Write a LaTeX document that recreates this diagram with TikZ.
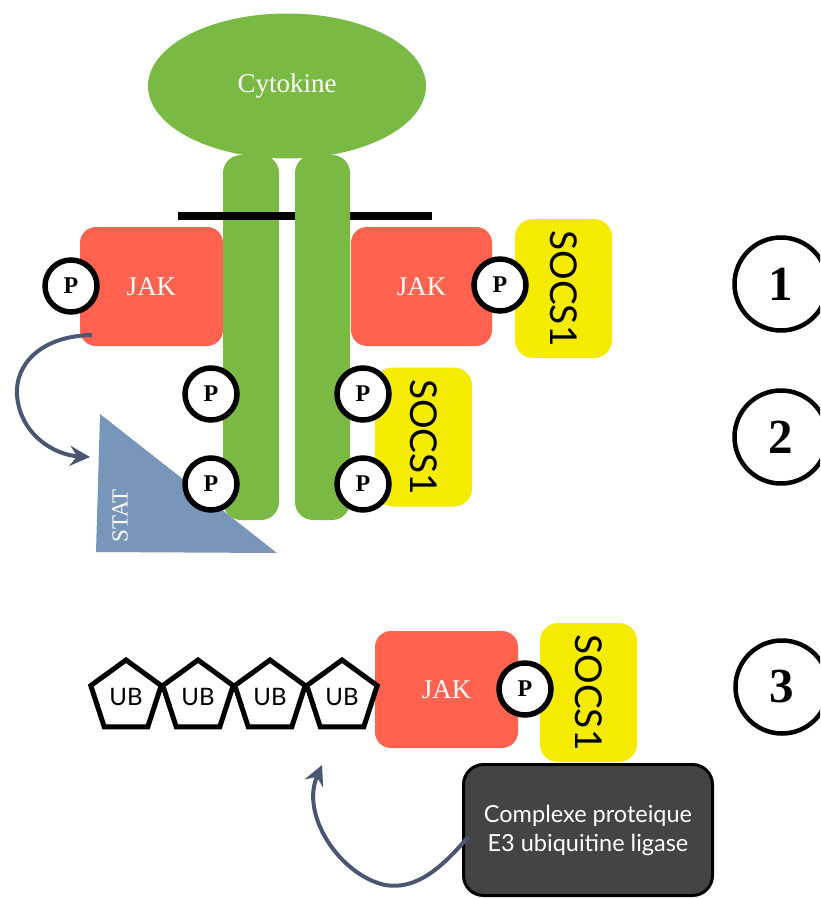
\documentclass[tikz,border=0pt]{standalone}
\usepackage{fontspec}
\setmainfont{Liberation Serif}
\newfontfamily\ubfont{Lato}
\usetikzlibrary{shapes.geometric,arrows.meta}
\definecolor{cgreen}{HTML}{7AB943}
\definecolor{cjak}{HTML}{FF6350}
\definecolor{csocs}{HTML}{F5EB00}
\definecolor{cstat}{HTML}{7896B9}
\definecolor{carrow}{HTML}{4A5672}
\definecolor{cdark}{HTML}{444444}
\begin{document}
\begin{tikzpicture}[x=1pt,y=-1pt,
  jakbox/.style={rectangle, rounded corners=16pt, fill=cjak, minimum width=143pt, minimum height=119pt, text=white, font=\fontsize{27}{30}\selectfont, inner sep=0pt},
  socsbox/.style={rectangle, rotate=-90, rounded corners=18pt, fill=csocs, minimum width=139pt, minimum height=97pt, inner sep=0pt, font=\ubfont\fontsize{37}{37}\selectfont},
  pcirc/.style={circle, draw=black, line width=5.5pt, fill=white, minimum size=52pt, inner sep=0pt, font=\bfseries\fontsize{24}{24}\selectfont},
  numcirc/.style={circle, draw=black, line width=4.5pt, fill=white, minimum size=93pt, inner sep=0pt, font=\bfseries\fontsize{49}{49}\selectfont},
  bar/.style={rectangle, rounded corners=18pt, fill=cgreen, minimum width=56pt, minimum height=365pt, inner sep=0pt},
  ubpent/.style={regular polygon, regular polygon sides=5, draw=black, line width=5pt, fill=white, minimum size=74pt, inner sep=0pt, font=\ubfont\fontsize{24}{24}\selectfont},
  conn/.style={draw=carrow, line width=4pt, -{Stealth[length=20pt,width=20pt,inset=7pt]}}
]
\useasboundingbox (0,0) rectangle (820,899);
\clip (0,0) rectangle (820,899);

% STAT triangle
\fill[cstat] (100,414) -- (96,552) -- (277,553) -- cycle;
\node[rotate=90, text=white, font=\fontsize{23}{23}\selectfont, inner sep=0pt] (stat) at (120,516) {STAT};

% receptor bars and membrane
\node[bar] (barL) at (251,337.5) {};
\node[rectangle, fill=black, minimum width=254pt, minimum height=8pt, inner sep=0pt] (membrane) at (305,216) {};
\node[bar, minimum width=55pt] (barR) at (322.5,337.5) {};

% cytokine
\node[ellipse, fill=cgreen, minimum width=278pt, minimum height=145pt, text=white, font=\fontsize{27}{27}\selectfont, inner sep=0pt] (cyto) at (287,86) {Cytokine};

% JAK boxes
\node[jakbox] (jakL) at (151.5,286.5) {JAK};
\node[jakbox, minimum width=141pt] (jakR) at (421.5,286.5) {JAK};
\node[jakbox, minimum height=117pt] (jakB) at (446.5,689.5) {JAK};

% SOCS1 boxes
\node[socsbox] (socsA) at (563.5,288.5) {SOCS1};
\node[socsbox] (socsB) at (423.5,437) {SOCS1};
\node[socsbox] (socsC) at (588.5,692.5) {SOCS1};

% P circles
\node[pcirc] (pL) at (71,286) {P};
\node[pcirc] (pR) at (500,285) {P};
\node[pcirc] (pB1) at (211,394) {P};
\node[pcirc] (pB2) at (211,484) {P};
\node[pcirc] (pR1) at (363,394) {P};
\node[pcirc] (pR2) at (363,484) {P};
\node[pcirc] (p3) at (525,689) {P};

% ubiquitin chain
\node[ubpent] (ub1) at (126,697) {UB};
\node[ubpent] (ub2) at (198,697) {UB};
\node[ubpent] (ub3) at (270,697) {UB};
\node[ubpent] (ub4) at (342,697) {UB};

% E3 complex
\node[rectangle, rounded corners=20pt, fill=cdark, draw=black, line width=3pt, minimum width=249pt, minimum height=131pt, text=white, align=center, font=\ubfont\fontsize{23.5}{29}\selectfont, inner sep=0pt] (e3) at (588,830) {Complexe proteique\\E3 ubiquitine ligase};

% step numbers
\node[numcirc] (n1) at (781,284) {1};
\node[numcirc] (n2) at (781,437) {2};
\node[numcirc] (n3) at (782,687) {3};

% connectors
\coordinate (a1s) at (92,335);
\coordinate (a1e) at (90,457);
\draw[conn] (a1s) .. controls (40,336) and (15,365) .. (17,395) .. controls (20,435) and (55,455) .. (a1e);
\coordinate (a2s) at (468,837);
\coordinate (a2e) at (322,765);
\draw[conn] (a2s) .. controls (440,870) and (415,890) .. (385,885) .. controls (340,875) and (300,815) .. (a2e);
\end{tikzpicture}
\end{document}
